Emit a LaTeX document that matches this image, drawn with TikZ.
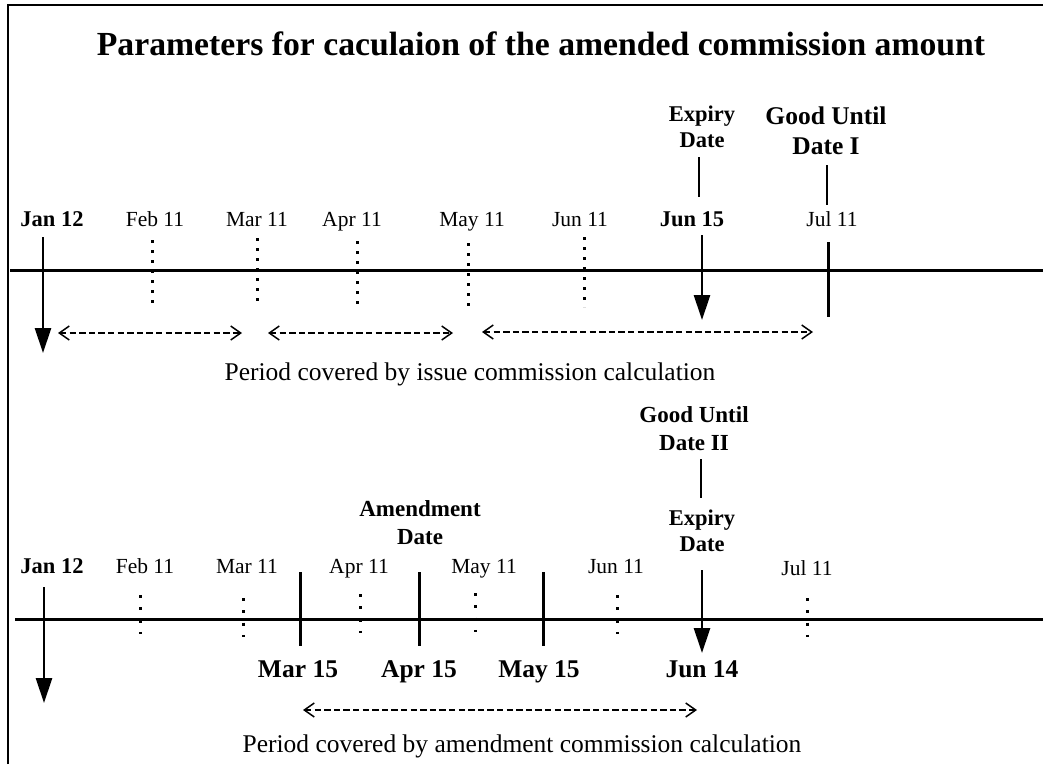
\documentclass[tikz,border=0pt]{standalone}
\usepackage{fontspec}
\setmainfont{Liberation Serif}
\usetikzlibrary{arrows.meta}
\begin{document}
\begin{tikzpicture}[x=1pt,y=-1pt,
  lbl/.style={font=\fontsize{21.5}{24}\selectfont, inner sep=0, anchor=base},
  bl/.style={font=\bfseries\fontsize{22.5}{26}\selectfont, inner sep=0, anchor=base},
  bbl/.style={font=\bfseries\fontsize{25.5}{30}\selectfont, inner sep=0, anchor=base},
  ttl/.style={font=\bfseries\fontsize{33.7}{38}\selectfont, inner sep=0, anchor=base},
  per/.style={font=\fontsize{25.5}{30}\selectfont, inner sep=0, anchor=base},
  mlA/.style={font=\bfseries\fontsize{22.5}{26}\selectfont, align=center, inner sep=0, anchor=south},
  mlB/.style={font=\bfseries\fontsize{25.5}{30}\selectfont, align=center, inner sep=0, anchor=south},
  mlC/.style={font=\bfseries\fontsize{23}{28}\selectfont, align=center, inner sep=0, anchor=south},
  frameline/.style={line width=2.8},
  axis/.style={line width=3},
  tick/.style={line width=3},
  thin/.style={line width=1.3},
  bigarrow/.style={line width=2.8, -{Triangle[length=25,width=16]}},
  dotsA/.style={line width=3, dash pattern=on 3 off 7},
  dotsB/.style={line width=3, dash pattern=on 3 off 9.3},
  period/.style={line width=2, dash pattern=on 6.4 off 3.2,
     {Straight Barb[length=10,width=14,line width=1.5]}-{Straight Barb[length=10,width=14,line width=1.5]}}
]
\useasboundingbox (0,0) rectangle (1043,764);
% frame
\coordinate (fbl) at (8,764);
\coordinate (ftl) at (8,5);
\coordinate (ftr) at (1043,5);
\draw[frameline] (fbl) -- (ftl) -- (ftr);

\node[ttl] (title) at (541,55) {Parameters for caculaion of the amended commission amount};

% ================= timeline 1 =================
\coordinate (t1s) at (10,270);
\coordinate (t1e) at (1043,270);
\draw[axis] (t1s) -- (t1e);

\node[bl]  (jan12a) at (52,226) {Jan 12};
\node[lbl] (feb11a) at (155,226) {Feb 11};
\node[lbl] (mar11a) at (257,226) {Mar 11};
\node[lbl] (apr11a) at (352,226) {Apr 11};
\node[lbl] (may11a) at (472,226) {May 11};
\node[lbl] (jun11a) at (580,226) {Jun 11};
\node[bl]  (jun15a) at (692,226) {Jun 15};
\node[lbl] (jul11a) at (832,226) {Jul 11};

\node[mlA] (expA) at (702,148) {Expiry\\Date};
\node[mlB] (gudI) at (826,155) {Good Until\\Date I};

% dotted month marks
\coordinate (d1s) at (152,240); \coordinate (d1e) at (152,310);
\coordinate (d2s) at (257,238); \coordinate (d2e) at (257,308);
\coordinate (d3s) at (357,241); \coordinate (d3e) at (357,311);
\coordinate (d4s) at (468,243); \coordinate (d4e) at (468,313);
\coordinate (d5s) at (584,237); \coordinate (d5e) at (584,307);
\draw[dotsA] (d1s) -- (d1e);
\draw[dotsA] (d2s) -- (d2e);
\draw[dotsA] (d3s) -- (d3e);
\draw[dotsA] (d4s) -- (d4e);
\draw[dotsA] (d5s) -- (d5e);

% arrows and ticks
\coordinate (a1s) at (43,237); \coordinate (a1e) at (43,353);
\draw[bigarrow] (a1s) -- (a1e);
\coordinate (a2s) at (702,235); \coordinate (a2e) at (702,320);
\draw[bigarrow] (a2s) -- (a2e);
\coordinate (k1s) at (828,242); \coordinate (k1e) at (828,317);
\draw[tick] (k1s) -- (k1e);

% thin label connectors
\coordinate (c1s) at (699,157); \coordinate (c1e) at (699,197);
\draw[thin] (c1s) -- (c1e);
\coordinate (c2s) at (827,165); \coordinate (c2e) at (827,205);
\draw[thin] (c2s) -- (c2e);

% period arrows
\coordinate (p1s) at (58,333); \coordinate (p1e) at (242,333);
\coordinate (p2s) at (268,333); \coordinate (p2e) at (453,333);
\coordinate (p3s) at (482,332); \coordinate (p3e) at (813,332);
\draw[period] (p1s) -- (p1e);
\draw[period] (p2s) -- (p2e);
\draw[period] (p3s) -- (p3e);

\node[per] (issue) at (470,380) {Period covered by issue commission calculation};

% ================= timeline 2 =================
\coordinate (t2s) at (15,619);
\coordinate (t2e) at (1043,619);
\draw[axis] (t2s) -- (t2e);

\node[bl]  (jan12b) at (52,573) {Jan 12};
\node[lbl] (feb11b) at (145,573) {Feb 11};
\node[lbl] (mar11b) at (247,573) {Mar 11};
\node[lbl] (apr11b) at (359,573) {Apr 11};
\node[lbl] (may11b) at (484,573) {May 11};
\node[lbl] (jun11b) at (616,573) {Jun 11};
\node[lbl] (jul11b) at (807,575) {Jul 11};

\node[mlC] (gudII) at (694,451) {Good Until\\Date II};
\node[mlA] (expB) at (702,552) {Expiry\\Date};
\node[mlC] (amd) at (420,545) {Amendment\\Date};

\node[bbl] (mar15) at (298,677) {Mar 15};
\node[bbl] (apr15) at (419,677) {Apr 15};
\node[bbl] (may15) at (539,677) {May 15};
\node[bbl] (jun14) at (702,677) {Jun 14};

% dotted month marks
\coordinate (e1s) at (140,595); \coordinate (e1e) at (140,634);
\coordinate (e2s) at (243,598); \coordinate (e2e) at (243,637);
\coordinate (e3s) at (360,594); \coordinate (e3e) at (360,633);
\coordinate (e4s) at (475,593); \coordinate (e4e) at (475,632);
\coordinate (e5s) at (617,595); \coordinate (e5e) at (617,634);
\coordinate (e6s) at (807,598); \coordinate (e6e) at (807,637);
\draw[dotsB] (e1s) -- (e1e);
\draw[dotsB] (e2s) -- (e2e);
\draw[dotsB] (e3s) -- (e3e);
\draw[dotsB] (e4s) -- (e4e);
\draw[dotsB] (e5s) -- (e5e);
\draw[dotsB] (e6s) -- (e6e);

% arrows and ticks
\coordinate (b1s) at (44,587); \coordinate (b1e) at (44,703);
\draw[bigarrow] (b1s) -- (b1e);
\coordinate (b2s) at (702,570); \coordinate (b2e) at (702,653);
\draw[bigarrow] (b2s) -- (b2e);
\coordinate (m1s) at (300,572); \coordinate (m1e) at (300,646);
\coordinate (m2s) at (419,572); \coordinate (m2e) at (419,646);
\coordinate (m3s) at (543,572); \coordinate (m3e) at (543,646);
\draw[tick] (m1s) -- (m1e);
\draw[tick] (m2s) -- (m2e);
\draw[tick] (m3s) -- (m3e);

% thin connector
\coordinate (c3s) at (701,459); \coordinate (c3e) at (701,498);
\draw[thin] (c3s) -- (c3e);

% period arrow
\coordinate (q1s) at (303,710); \coordinate (q1e) at (697,710);
\draw[period] (q1s) -- (q1e);

\node[per] (amend) at (522,752) {Period covered by amendment commission calculation};
\end{tikzpicture}
\end{document}
